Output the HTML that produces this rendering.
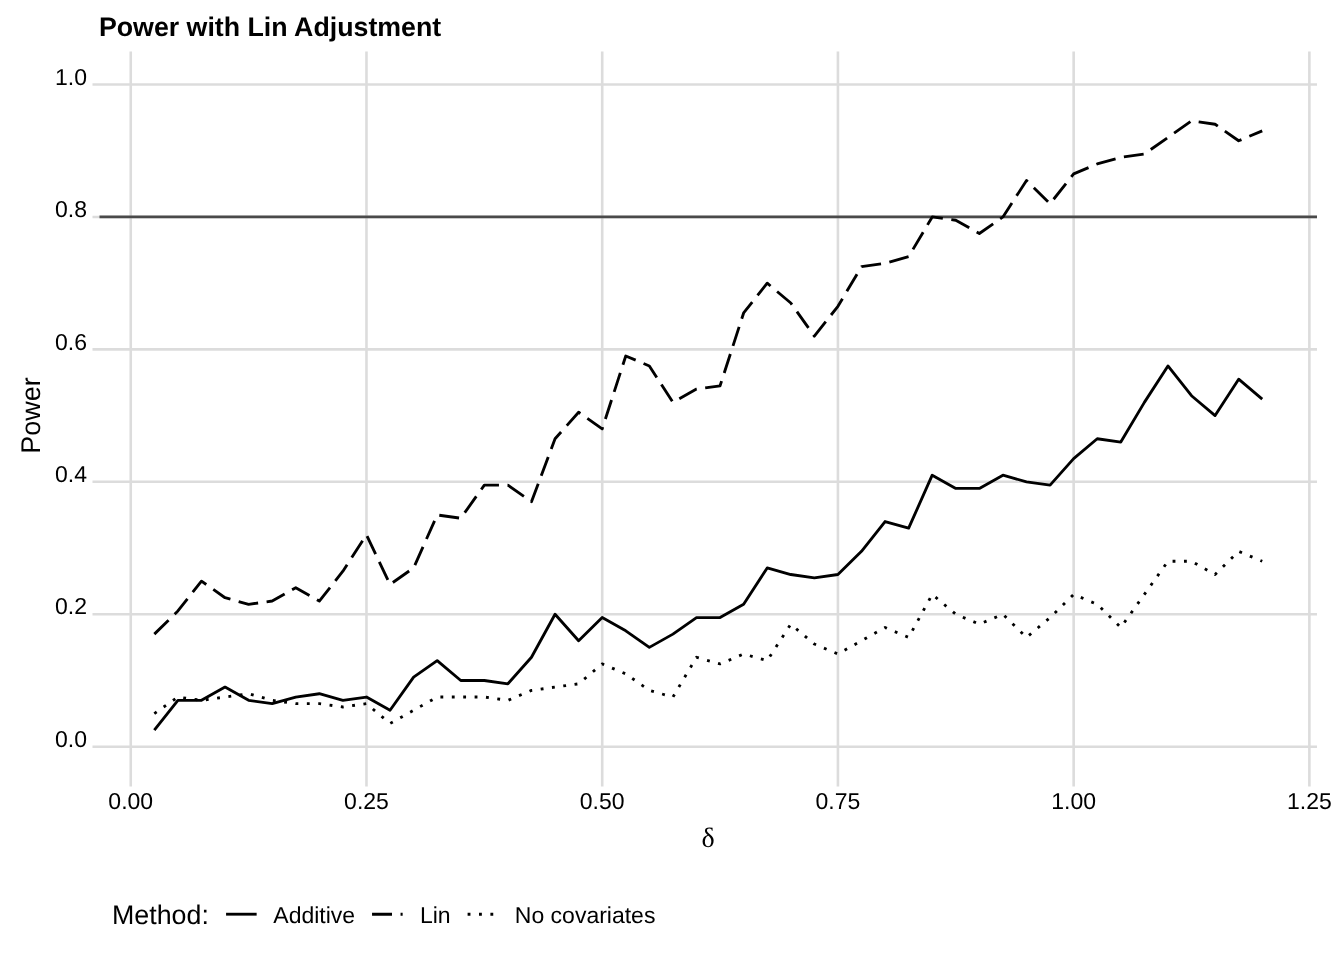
<!DOCTYPE html>
<html><head><meta charset="utf-8"><style>
html,body{margin:0;padding:0;background:#fff;}
svg{display:block;will-change:transform;}
text{font-family:"Liberation Sans",sans-serif;fill:#000;text-rendering:geometricPrecision;}
</style></head><body>
<svg width="1344" height="960" viewBox="0 0 1344 960">
<rect width="1344" height="960" fill="#fff"/>
<g stroke="#DCDCDC" stroke-width="2.6" fill="none">
<line x1="92.5" y1="746.70" x2="1317" y2="746.70"/>
<line x1="92.5" y1="614.26" x2="1317" y2="614.26"/>
<line x1="92.5" y1="481.82" x2="1317" y2="481.82"/>
<line x1="92.5" y1="349.38" x2="1317" y2="349.38"/>
<line x1="92.5" y1="216.94" x2="1317" y2="216.94"/>
<line x1="92.5" y1="84.50" x2="1317" y2="84.50"/>
<line x1="130.75" y1="51.4" x2="130.75" y2="786.6"/>
<line x1="366.48" y1="51.4" x2="366.48" y2="786.6"/>
<line x1="602.20" y1="51.4" x2="602.20" y2="786.6"/>
<line x1="837.92" y1="51.4" x2="837.92" y2="786.6"/>
<line x1="1073.65" y1="51.4" x2="1073.65" y2="786.6"/>
<line x1="1309.38" y1="51.4" x2="1309.38" y2="786.6"/>
</g>
<line x1="99.5" y1="216.94" x2="1317" y2="216.94" stroke="#4A4A4A" stroke-width="2.85"/>
<g fill="none" stroke="#000" stroke-width="2.85" stroke-linejoin="round" stroke-linecap="butt">
<path d="M154.32,730.15 L177.90,700.35 L201.47,700.35 L225.04,687.10 L248.61,700.35 L272.19,703.66 L295.76,697.04 L319.33,693.72 L342.90,700.35 L366.48,697.04 L390.05,710.28 L413.62,677.17 L437.19,660.61 L460.77,680.48 L484.34,680.48 L507.91,683.79 L531.48,657.30 L555.06,614.26 L578.63,640.75 L602.20,617.57 L625.77,630.82 L649.35,647.37 L672.92,634.13 L696.49,617.57 L720.06,617.57 L743.63,604.33 L767.21,567.91 L790.78,574.53 L814.35,577.84 L837.92,574.53 L861.50,551.35 L885.07,521.55 L908.64,528.17 L932.22,475.20 L955.79,488.44 L979.36,488.44 L1002.93,475.20 L1026.51,481.82 L1050.08,485.13 L1073.65,458.64 L1097.22,438.78 L1120.80,442.09 L1144.37,402.36 L1167.94,365.94 L1191.51,395.73 L1215.09,415.60 L1238.66,379.18 L1262.23,399.05"/>
<path d="M154.32,634.13 L177.90,610.95 L201.47,581.15 L225.04,597.71 L248.61,604.33 L272.19,601.02 L295.76,587.77 L319.33,601.02 L342.90,571.22 L366.48,534.80 L390.05,584.46 L413.62,567.91 L437.19,514.93 L460.77,518.24 L484.34,485.13 L507.91,485.13 L531.48,501.69 L555.06,438.78 L578.63,412.29 L602.20,428.84 L625.77,356.00 L649.35,365.94 L672.92,402.36 L696.49,389.11 L720.06,385.80 L743.63,312.96 L767.21,283.16 L790.78,303.03 L814.35,336.14 L837.92,306.34 L861.50,266.61 L885.07,263.29 L908.64,256.67 L932.22,216.94 L955.79,220.25 L979.36,233.50 L1002.93,216.94 L1026.51,180.52 L1050.08,203.70 L1073.65,173.90 L1097.22,163.96 L1120.80,157.34 L1144.37,154.03 L1167.94,137.48 L1191.51,120.92 L1215.09,124.23 L1238.66,140.79 L1262.23,130.85" stroke-dasharray="19.95,8.55"/>
<path d="M154.32,713.59 L177.90,697.04 L201.47,700.35 L225.04,697.04 L248.61,693.72 L272.19,700.35 L295.76,703.66 L319.33,703.66 L342.90,706.97 L366.48,703.66 L390.05,723.52 L413.62,710.28 L437.19,697.04 L460.77,697.04 L484.34,697.04 L507.91,700.35 L531.48,690.41 L555.06,687.10 L578.63,683.79 L602.20,663.93 L625.77,673.86 L649.35,690.41 L672.92,697.04 L696.49,657.30 L720.06,663.93 L743.63,653.99 L767.21,660.61 L790.78,624.19 L814.35,644.06 L837.92,653.99 L861.50,640.75 L885.07,627.50 L908.64,637.44 L932.22,594.39 L955.79,614.26 L979.36,624.19 L1002.93,614.26 L1026.51,637.44 L1050.08,617.57 L1073.65,594.39 L1097.22,604.33 L1120.80,627.50 L1144.37,594.39 L1167.94,561.28 L1191.51,561.28 L1215.09,574.53 L1238.66,551.35 L1262.23,561.28" stroke-dasharray="2.85,8.55"/>
</g>
<text x="98.9" y="35.9" font-weight="bold" font-size="26.75">Power with Lin Adjustment</text>
<g font-size="23" fill="#000">
<text x="87" y="746.90" text-anchor="end">0.0</text>
<text x="87" y="614.46" text-anchor="end">0.2</text>
<text x="87" y="482.02" text-anchor="end">0.4</text>
<text x="87" y="349.58" text-anchor="end">0.6</text>
<text x="87" y="217.14" text-anchor="end">0.8</text>
<text x="87" y="84.70" text-anchor="end">1.0</text>
<text x="130.75" y="809" text-anchor="middle">0.00</text>
<text x="366.48" y="809" text-anchor="middle">0.25</text>
<text x="602.20" y="809" text-anchor="middle">0.50</text>
<text x="837.92" y="809" text-anchor="middle">0.75</text>
<text x="1073.65" y="809" text-anchor="middle">1.00</text>
<text x="1309.38" y="809" text-anchor="middle">1.25</text>
</g>
<text transform="translate(40.3,415.45) rotate(-90)" text-anchor="middle" font-size="27">Power</text>
<text x="708" y="847" text-anchor="middle" font-size="28" style="font-family:'Liberation Serif',serif">&#948;</text>
<text x="112" y="923.5" font-size="26.8">Method:</text>
<g stroke="#000" stroke-width="2.85">
<line x1="226.07" y1="914.2" x2="256.65" y2="914.2"/>
<line x1="372.05" y1="914.2" x2="402.65" y2="914.2" stroke-dasharray="19.95,8.55"/>
<line x1="467.6" y1="914.2" x2="498.2" y2="914.2" stroke-dasharray="2.85,8.55"/>
</g>
<g font-size="23">
<text x="273.3" y="922.7">Additive</text>
<text x="419.9" y="922.7">Lin</text>
<text x="514.8" y="922.7">No covariates</text>
</g>
</svg>
</body></html>
